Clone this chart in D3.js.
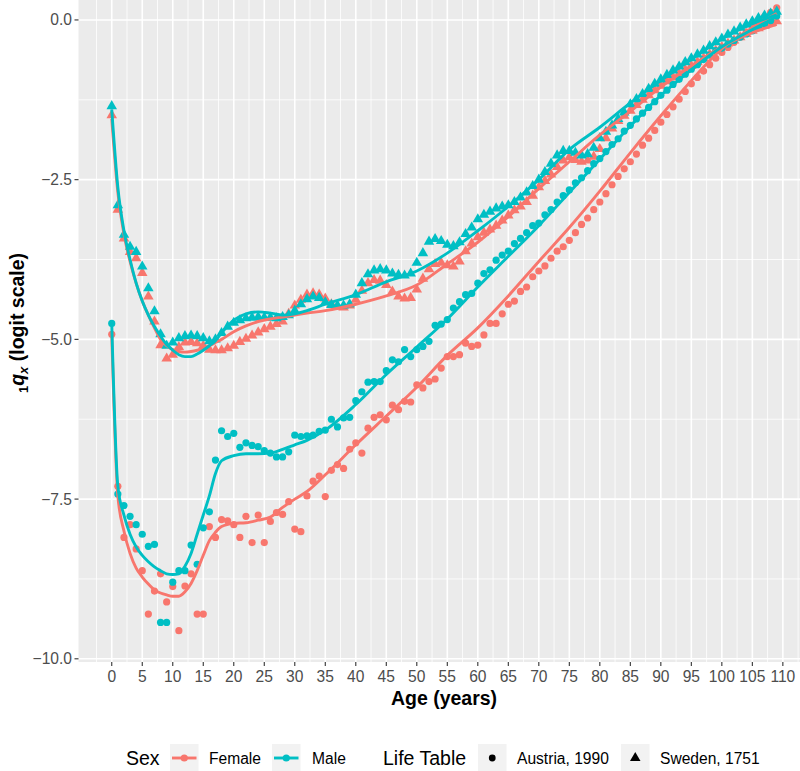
<!DOCTYPE html>
<html><head><meta charset="utf-8">
<script src="https://cdn.jsdelivr.net/npm/d3@7"></script>
<style>body{margin:0;background:#fff}svg{display:block;font-family:"Liberation Sans",Arial,sans-serif}</style>
</head><body><svg id="c" width="800" height="771"></svg>
<script>
const ages = d3.range(0, 110);
const austriaFemale = [-4.92,-7.30,-8.10,-7.90,-8.28,-8.62,-9.30,-8.94,-8.67,-9.11,-8.87,-9.56,-8.86,-8.67,-9.30,-9.30,-7.93,-8.10,-7.82,-7.84,
-7.90,-8.10,-7.77,-8.18,-7.75,-8.18,-7.85,-7.71,-7.74,-7.54,-7.97,-8.01,-7.45,-7.22,-7.14,-7.46,-7.05,-6.96,-7.02,-6.72,
-6.62,-6.78,-6.39,-6.22,-6.18,-6.26,-6.03,-6.10,-5.97,-5.98,-5.71,-5.76,-5.66,-5.62,-5.45,-5.27,-5.27,-5.24,-5.06,-5.11,
-5.09,-4.93,-4.75,-4.75,-4.60,-4.45,-4.40,-4.25,-4.18,-4.02,-3.93,-3.85,-3.73,-3.62,-3.55,-3.45,-3.33,-3.20,-3.10,-2.97,
-2.85,-2.72,-2.58,-2.45,-2.33,-2.22,-2.10,-1.96,-1.85,-1.73,-1.60,-1.48,-1.36,-1.24,-1.12,-1.00,-0.90,-0.80,-0.70,-0.60,
-0.51,-0.43,-0.35,-0.27,-0.19,-0.11,-0.03,0.05,0.12,0.19];
const austriaMale = [-4.75,-7.42,-7.60,-7.77,-7.90,-8.05,-8.24,-8.21,-9.43,-9.43,-8.80,-8.62,-8.62,-8.22,-8.52,-7.95,-7.70,-6.89,-6.43,-6.52,
-6.47,-6.69,-6.62,-6.66,-6.68,-6.74,-6.78,-6.84,-6.84,-6.76,-6.50,-6.52,-6.51,-6.50,-6.44,-6.42,-6.25,-6.37,-6.23,-6.22,
-5.96,-5.82,-5.67,-5.66,-5.66,-5.49,-5.32,-5.35,-5.16,-5.27,-5.16,-5.11,-5.03,-4.78,-4.76,-4.69,-4.51,-4.41,-4.30,-4.28,
-4.12,-3.97,-3.91,-3.76,-3.68,-3.62,-3.50,-3.42,-3.33,-3.22,-3.18,-3.05,-2.97,-2.85,-2.75,-2.66,-2.55,-2.47,-2.36,-2.25,
-2.17,-2.06,-1.95,-1.86,-1.74,-1.65,-1.55,-1.46,-1.37,-1.28,-1.18,-1.10,-1.01,-0.93,-0.85,-0.77,-0.70,-0.62,-0.55,-0.48,
-0.44,-0.38,-0.32,-0.27,-0.22,-0.17,-0.12,-0.06,-0.01,0.06];
const swedenFemale = [-1.49,-2.97,-3.42,-3.63,-3.73,-3.96,-4.33,-4.72,-5.09,-5.30,-5.24,-5.12,-5.05,-5.04,-5.06,-5.10,-5.16,-5.17,-5.17,-5.14,
-5.10,-5.04,-4.99,-4.94,-4.89,-4.84,-4.80,-4.76,-4.72,-4.60,-4.47,-4.38,-4.30,-4.28,-4.30,-4.36,-4.45,-4.49,-4.50,-4.47,
-4.38,-4.24,-4.12,-4.07,-4.08,-4.15,-4.25,-4.33,-4.36,-4.35,-4.22,-4.05,-3.90,-3.82,-3.80,-3.84,-3.86,-3.78,-3.62,-3.50,
-3.40,-3.33,-3.28,-3.22,-3.14,-3.06,-2.98,-2.92,-2.85,-2.75,-2.62,-2.52,-2.42,-2.30,-2.20,-2.15,-2.19,-2.22,-2.20,-2.14,
-2.02,-1.85,-1.70,-1.58,-1.50,-1.42,-1.33,-1.25,-1.18,-1.10,-1.03,-0.96,-0.90,-0.84,-0.78,-0.72,-0.66,-0.60,-0.54,-0.48,
-0.42,-0.37,-0.32,-0.27,-0.22,-0.17,-0.13,-0.09,-0.05,-0.02];
const swedenMale = [-1.35,-2.90,-3.36,-3.55,-3.63,-3.86,-4.20,-4.56,-4.92,-5.10,-5.05,-4.98,-4.95,-4.94,-4.95,-4.98,-5.03,-5.00,-4.90,-4.80,
-4.74,-4.70,-4.67,-4.66,-4.65,-4.66,-4.66,-4.67,-4.65,-4.62,-4.55,-4.45,-4.37,-4.33,-4.35,-4.42,-4.46,-4.47,-4.47,-4.45,
-4.30,-4.12,-3.98,-3.92,-3.90,-3.92,-3.97,-3.99,-4.00,-3.97,-3.80,-3.65,-3.47,-3.43,-3.46,-3.52,-3.54,-3.48,-3.35,-3.25,
-3.12,-3.05,-3.00,-2.95,-2.92,-2.90,-2.85,-2.78,-2.70,-2.60,-2.50,-2.38,-2.25,-2.12,-2.05,-2.05,-2.08,-2.12,-2.10,-2.00,
-1.85,-1.75,-1.65,-1.55,-1.45,-1.32,-1.24,-1.16,-1.08,-1.00,-0.93,-0.86,-0.79,-0.73,-0.66,-0.60,-0.54,-0.48,-0.41,-0.35,
-0.29,-0.23,-0.18,-0.12,-0.07,-0.02,0.03,0.07,0.10,0.13];

const lineAges = [0,1,2,3,4,5,6,7,8,9,10,11,12,13,14,15,16,17,18,20,22,24,26,28,30,32,35,40,45,50,55,60,65,70,75,80,85,90,95,100,105,109];
const austriaFemaleFit = [-4.92,-7.45,-8.00,-8.35,-8.58,-8.72,-8.83,-8.92,-8.97,-9.00,-9.02,-9.02,-8.95,-8.82,-8.62,-8.38,-8.15,-8.02,-7.93,-7.88,-7.87,-7.83,-7.78,-7.63,-7.50,-7.38,-7.12,-6.65,-6.20,-5.75,-5.25,-4.82,-4.32,-3.78,-3.25,-2.68,-2.08,-1.50,-0.95,-0.45,-0.12,0.10];
const austriaMaleFit = [-4.75,-7.30,-7.75,-8.05,-8.25,-8.38,-8.48,-8.56,-8.62,-8.67,-8.68,-8.67,-8.55,-8.35,-8.05,-7.75,-7.45,-7.10,-6.90,-6.82,-6.79,-6.79,-6.78,-6.72,-6.65,-6.58,-6.42,-6.02,-5.55,-5.12,-4.68,-4.18,-3.70,-3.22,-2.70,-2.18,-1.66,-1.18,-0.78,-0.42,-0.15,0.05];
const swedenFemaleFit = [-1.55,-2.70,-3.35,-3.78,-4.12,-4.40,-4.62,-4.82,-5.00,-5.10,-5.16,-5.19,-5.20,-5.19,-5.17,-5.14,-5.10,-5.05,-5.00,-4.88,-4.79,-4.72,-4.68,-4.65,-4.62,-4.59,-4.55,-4.45,-4.32,-4.15,-3.82,-3.48,-3.08,-2.64,-2.22,-1.80,-1.43,-1.05,-0.72,-0.42,-0.20,-0.07];
const swedenMaleFit = [-1.40,-2.62,-3.30,-3.75,-4.12,-4.40,-4.62,-4.80,-4.95,-5.08,-5.17,-5.24,-5.27,-5.27,-5.23,-5.17,-5.10,-5.02,-4.90,-4.70,-4.60,-4.57,-4.59,-4.62,-4.60,-4.55,-4.45,-4.30,-4.10,-3.93,-3.65,-3.30,-2.92,-2.50,-2.03,-1.68,-1.30,-0.95,-0.62,-0.30,-0.06,0.08];

const xTicks = d3.range(0, 111, 5);
const yTicks = [0, -2.5, -5, -7.5, -10];
const yTickLabels = ["0.0", "\u22122.5", "\u22125.0", "\u22127.5", "\u221210.0"];
const sexLabels = ["Female", "Male"];
const tableLabels = ["Austria, 1990", "Sweden, 1751"];
const colors = {Female: "#F8766D", Male: "#00BFC4"};

const svg = d3.select("#c");
const x = d3.scaleLinear().domain([-5.45, 114.45]).range([78.5, 810]);
const y = d3.scaleLinear().domain([-10.05, 0.68]).range([662, -23.5]);
const pL = 78.5, pR = 810, pT = -23.5, pB = 662;

svg.append("rect").attr("x", pL).attr("y", pT).attr("width", pR - pL).attr("height", pB - pT).attr("fill", "#EBEBEB");
const g = svg.append("g");
// minor grid
const xMinor = d3.range(-2.5, 115, 5);
const yMinor = [-1.25, -3.75, -6.25, -8.75];
g.selectAll(".xm").data(xMinor).join("line").attr("x1", d => x(d)).attr("x2", d => x(d)).attr("y1", pT).attr("y2", pB).attr("stroke", "#fff").attr("stroke-width", 0.8);
g.selectAll(".ym").data(yMinor).join("line").attr("y1", d => y(d)).attr("y2", d => y(d)).attr("x1", pL).attr("x2", pR).attr("stroke", "#fff").attr("stroke-width", 0.8);
g.selectAll(".xM").data(xTicks).join("line").attr("x1", d => x(d)).attr("x2", d => x(d)).attr("y1", pT).attr("y2", pB).attr("stroke", "#fff").attr("stroke-width", 1.6);
g.selectAll(".yM").data(yTicks).join("line").attr("y1", d => y(d)).attr("y2", d => y(d)).attr("x1", pL).attr("x2", pR).attr("stroke", "#fff").attr("stroke-width", 1.6);

// points
const series = [
  {sex: "Female", table: 0, vals: austriaFemale},
  {sex: "Female", table: 1, vals: swedenFemale},
  {sex: "Male", table: 0, vals: austriaMale},
  {sex: "Male", table: 1, vals: swedenMale}
];
const tri = d3.symbol().type(d3.symbolTriangle).size(48);
series.forEach(s => {
  const pts = ages.map((a, i) => [a, s.vals[i]]);
  if (s.table === 0) {
    svg.append("g").selectAll("circle").data(pts).join("circle")
      .attr("cx", d => x(d[0])).attr("cy", d => y(d[1])).attr("r", 3.6).attr("fill", colors[s.sex]);
  } else {
    svg.append("g").selectAll("path").data(pts).join("path")
      .attr("transform", d => `translate(${x(d[0])},${y(d[1])})`).attr("d", tri).attr("fill", colors[s.sex]);
  }
});
// fitted lines
const fits = [
  {sex: "Female", vals: austriaFemaleFit},
  {sex: "Female", vals: swedenFemaleFit},
  {sex: "Male", vals: austriaMaleFit},
  {sex: "Male", vals: swedenMaleFit}
];
const line = d3.line().x(d => x(d[0])).y(d => y(d[1])).curve(d3.curveMonotoneX);
fits.forEach(f => {
  svg.append("path").datum(lineAges.map((a, i) => [a, f.vals[i]]))
    .attr("d", line).attr("fill", "none").attr("stroke", colors[f.sex]).attr("stroke-width", 2.9).attr("stroke-linejoin", "round");
});

// axes
const ax = svg.append("g");
ax.selectAll(".xt").data(xTicks).join("line").attr("x1", d => x(d)).attr("x2", d => x(d)).attr("y1", pB).attr("y2", pB + 4).attr("stroke", "#333").attr("stroke-width", 1.1);
ax.selectAll(".xl").data(xTicks).join("text").attr("x", d => x(d)).attr("y", 682).attr("text-anchor", "middle")
  .attr("font-size", 15.6).attr("fill", "#4D4D4D").text(d => d);
ax.selectAll(".yt").data(yTicks).join("line").attr("y1", d => y(d)).attr("y2", d => y(d)).attr("x1", pL - 4).attr("x2", pL).attr("stroke", "#333").attr("stroke-width", 1.1);
ax.selectAll(".yl").data(yTicks).join("text").attr("x", pL - 6.5).attr("y", d => y(d) + 5.5).attr("text-anchor", "end")
  .attr("font-size", 15.6).attr("fill", "#4D4D4D").text((d, i) => yTickLabels[i]);

svg.append("text").attr("x", 444).attr("y", 705).attr("text-anchor", "middle").attr("font-size", 19.5).attr("font-weight", "bold").text("Age (years)");
const yt = svg.append("text").attr("transform", "translate(24,323) rotate(-90)").attr("text-anchor", "middle").attr("font-size", 19.5).attr("font-weight", "bold");
yt.append("tspan").attr("font-size", 13).attr("dy", 4).text("1");
yt.append("tspan").attr("font-style", "italic").attr("dy", -4).text("q");
yt.append("tspan").attr("font-style", "italic").attr("font-size", 13).attr("dy", 4).text("x");
yt.append("tspan").attr("dy", -4).text(" (logit scale)");

// legend
const lg = svg.append("g");
const ly = 758;
lg.append("text").attr("x", 126).attr("y", ly + 7).attr("font-size", 19.5).text("Sex");
const sexKeys = [{x: 170, tx: 209}, {x: 272, tx: 312}];
sexLabels.forEach((lab, i) => {
  const k = sexKeys[i];
  lg.append("rect").attr("x", k.x).attr("y", 744).attr("width", 28.5).attr("height", 28).attr("fill", "#F2F2F2");
  lg.append("line").attr("x1", k.x + 2).attr("x2", k.x + 26.5).attr("y1", ly).attr("y2", ly).attr("stroke", colors[lab]).attr("stroke-width", 2.9);
  lg.append("circle").attr("cx", k.x + 14.25).attr("cy", ly).attr("r", 3.6).attr("fill", colors[lab]);
  lg.append("text").attr("x", k.tx).attr("y", ly + 6).attr("font-size", 15.6).text(lab);
});
lg.append("text").attr("x", 383).attr("y", ly + 7).attr("font-size", 19.5).text("Life Table");
const tabKeys = [{x: 478, tx: 517}, {x: 621, tx: 660}];
tableLabels.forEach((lab, i) => {
  const k = tabKeys[i];
  lg.append("rect").attr("x", k.x).attr("y", 744).attr("width", 28.5).attr("height", 28).attr("fill", "#F2F2F2");
  if (i === 0) lg.append("circle").attr("cx", k.x + 14.25).attr("cy", ly).attr("r", 3.4).attr("fill", "#000");
  else lg.append("path").attr("transform", `translate(${k.x + 14.25},${ly})`).attr("d", tri).attr("fill", "#000");
  lg.append("text").attr("x", k.tx).attr("y", ly + 6).attr("font-size", 15.6).text(lab);
});
</script></body></html>
